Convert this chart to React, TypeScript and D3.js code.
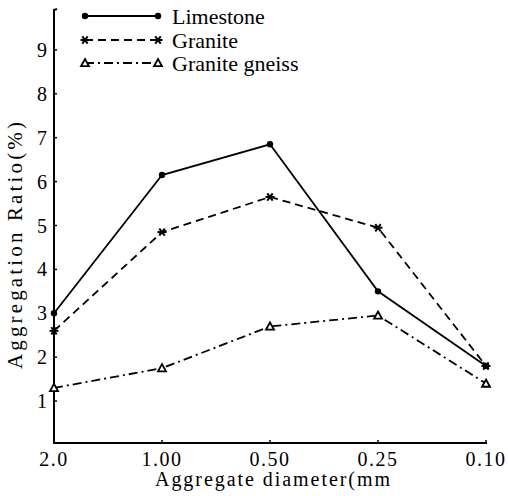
import React, { useEffect, useRef } from "react";
import * as d3 from "d3";

// Aggregate diameter classes (mm), plotted left to right
const diameters = ["2.0", "1.00", "0.50", "0.25", "0.10"];
const yTicks = [1, 2, 3, 4, 5, 6, 7, 8, 9];

// Aggregation ratio (%) by rock type
const limestone = [3.0, 6.15, 6.85, 3.5, 1.8];
const granite = [2.6, 4.85, 5.65, 4.95, 1.8];
const graniteGneiss = [1.3, 1.75, 2.7, 2.95, 1.4];

const seriesNames = ["Limestone", "Granite", "Granite gneiss"];

const W = 508;
const H = 496;
const SERIF = "'Times New Roman', 'Liberation Serif', serif";

type Marker = "dot" | "star" | "tri";

function drawMarker(g: d3.Selection<SVGGElement, unknown, null, undefined>, kind: Marker, x: number, y: number) {
  if (kind === "dot") {
    g.append("circle").attr("cx", x).attr("cy", y).attr("r", 3.2).attr("fill", "#000");
  } else if (kind === "star") {
    const s = 4.5;
    const m = g.append("g").attr("stroke", "#000").attr("stroke-width", 2);
    m.append("line").attr("x1", x - s).attr("y1", y).attr("x2", x + s).attr("y2", y);
    m.append("line").attr("x1", x - s * 0.6).attr("y1", y - s * 0.8).attr("x2", x + s * 0.6).attr("y2", y + s * 0.8);
    m.append("line").attr("x1", x + s * 0.6).attr("y1", y - s * 0.8).attr("x2", x - s * 0.6).attr("y2", y + s * 0.8);
  } else {
    const s = 4;
    g.append("path")
      .attr("d", `M${x},${y - s}L${x + s},${y + s * 0.8}L${x - s},${y + s * 0.8}Z`)
      .attr("fill", "#fff")
      .attr("stroke", "#000")
      .attr("stroke-width", 1.8);
  }
}

export default function App() {
  const ref = useRef<SVGSVGElement>(null);

  useEffect(() => {
    const svg = d3.select(ref.current as SVGSVGElement);
    svg.selectAll("*").remove();
    svg.append("rect").attr("width", W).attr("height", H).attr("fill", "#fff");

    const x = d3.scalePoint<string>().domain(diameters).range([54, 486]);
    const y = d3.scaleLinear().domain([0, 10]).range([445, 6]);
    const axisY = 443;
    const axisX = 54;

    const label = (parent: any, size: number) =>
      parent
        .append("text")
        .attr("font-family", SERIF)
        .style("font-family", SERIF)
        .attr("font-size", size)
        .attr("fill", "#000");

    // axes
    svg
      .append("path")
      .attr("d", `M${axisX + 3},9 L${axisX},10 L${axisX},${axisY} L487,${axisY}`)
      .attr("fill", "none")
      .attr("stroke", "#000")
      .attr("stroke-width", 2);

    yTicks.forEach((t) => {
      svg.append("line").attr("x1", axisX).attr("x2", axisX + 3).attr("y1", y(t)).attr("y2", y(t))
        .attr("stroke", "#000").attr("stroke-width", 1.5);
      label(svg, 20).attr("x", 47).attr("y", y(t)).attr("dy", "0.35em").attr("text-anchor", "end").text(String(t));
    });

    diameters.forEach((d) => {
      const px = x(d) as number;
      svg.append("line").attr("x1", px).attr("x2", px).attr("y1", axisY).attr("y2", axisY - 3)
        .attr("stroke", "#000").attr("stroke-width", 1.5);
      label(svg, 20).attr("x", px).attr("y", 466).attr("text-anchor", "middle")
        .attr("letter-spacing", 1.5).text(d);
    });

    // axis titles
    label(svg, 20).attr("x", 155).attr("y", 486).attr("textLength", 235)
      .attr("lengthAdjust", "spacing").text("Aggregate diameter(mm");
    label(svg, 21).attr("transform", "translate(22,369) rotate(-90)").attr("textLength", 247)
      .attr("lengthAdjust", "spacing").text("Aggregation Ratio(%)");

    const series: { name: string; values: number[]; dash: string | null; marker: Marker }[] = [
      { name: seriesNames[0], values: limestone, dash: null, marker: "dot" },
      { name: seriesNames[1], values: granite, dash: "8 5", marker: "star" },
      { name: seriesNames[2], values: graniteGneiss, dash: "9 4 2 4", marker: "tri" },
    ];

    const line = d3
      .line<number>()
      .x((_, i) => x(diameters[i]) as number)
      .y((v) => y(v));

    series.forEach((s) => {
      const g = svg.append("g");
      g.append("path")
        .attr("d", line(s.values) || "")
        .attr("fill", "none")
        .attr("stroke", "#000")
        .attr("stroke-width", 1.8)
        .attr("stroke-dasharray", s.dash);
      s.values.forEach((v, i) => drawMarker(g as any, s.marker, x(diameters[i]) as number, y(v)));
    });

    // legend
    const legendY = [16, 40, 63];
    series.forEach((s, i) => {
      const g = svg.append("g");
      g.append("line").attr("x1", 85).attr("x2", 158).attr("y1", legendY[i]).attr("y2", legendY[i])
        .attr("stroke", "#000").attr("stroke-width", 1.8).attr("stroke-dasharray", s.dash);
      drawMarker(g as any, s.marker, 85, legendY[i]);
      drawMarker(g as any, s.marker, 158, legendY[i]);
      label(g, 22).attr("x", 172).attr("y", legendY[i] + 8).text(s.name);
    });
  }, []);

  return (
    <svg
      ref={ref}
      width={W}
      height={H}
      style={{ position: "absolute", left: 0, top: 0, background: "#fff" }}
    />
  );
}
